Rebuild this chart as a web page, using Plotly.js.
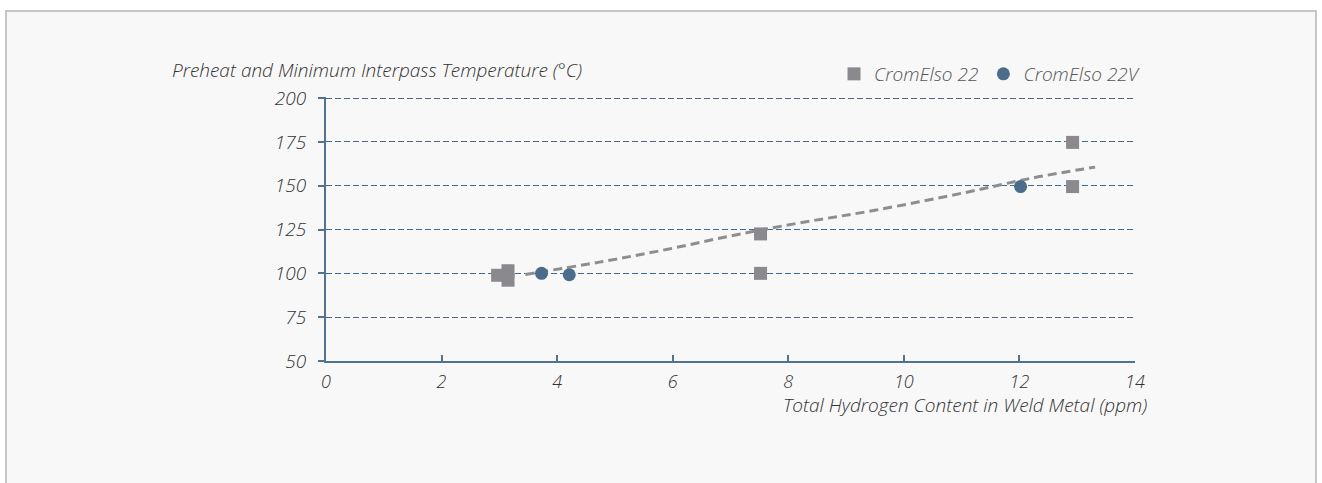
<!DOCTYPE html>
<html>
<head>
<meta charset="utf-8">
<script src="https://cdn.plot.ly/plotly-3.0.1.min.js"></script>
<style>
html,body{margin:0;padding:0;background:#fff;}
#chart{width:1322px;height:483px;}
</style>
</head>
<body>
<div id="chart"></div>
<script>
// Data
const crom22_x = [2.97, 3.15, 3.15, 7.52, 7.52, 12.92, 12.92];
const crom22_y = [98.9, 101.5, 96.1, 122.5, 100, 174.7, 149.5];
const crom22v_x = [3.73, 4.21, 12.02];
const crom22v_y = [100, 99.2, 149.5];
const trend_x = [3.45, 4.73, 5.89, 7.04, 8.2, 9.5, 11.09, 12.24, 13.31];
const trend_y = [99.4, 106.4, 113.6, 121.6, 128.8, 136.0, 146.3, 154.5, 160.6];
const xTicks = [0, 2, 4, 6, 8, 10, 12, 14];
const yTicks = [50, 75, 100, 125, 150, 175, 200];
const seriesNames = ['CromElso 22', 'CromElso 22V'];
const yTitle = 'Preheat and Minimum Interpass Temperature (°C)';
const xTitle = 'Total Hydrogen Content in Weld Metal (ppm)';

const FONT = '"Open Sans", Lato, sans-serif';
const AXIS_COLOR = '#52738f';
const TXT = '#333333';

// layout geometry (pixels)
const W = 1322, H = 483;
const L = 326, R = 1135, T = 97, B = 361;
const pw = R - L, ph = B - T;
const px2x = p => (p - L) / pw;
const py2y = p => (B - p) / ph;
const it = s => '<i>' + s + '</i>';

const traces = [
  {
    x: trend_x, y: trend_y, type: 'scatter', mode: 'lines',
    line: {color: '#8e8e90', width: 3, dash: '9px,5px', shape: 'spline'},
    showlegend: false, hoverinfo: 'skip'
  },
  {
    x: crom22_x, y: crom22_y, type: 'scatter', mode: 'markers', name: it(seriesNames[0]),
    marker: {symbol: 'square', size: 13, color: '#8a8a8e'}
  },
  {
    x: crom22v_x, y: crom22v_y, type: 'scatter', mode: 'markers', name: it(seriesNames[1]),
    marker: {symbol: 'circle', size: 13, color: '#4b6c8b'}
  }
];

const layout = {
  width: W, height: H,
  margin: {l: L, r: W - R, t: T, b: H - B, pad: 0},
  paper_bgcolor: '#ffffff',
  plot_bgcolor: 'rgba(0,0,0,0)',
  font: {family: FONT, color: TXT, weight: 300},
  showlegend: true,
  legend: {
    orientation: 'h', x: px2x(834), xanchor: 'left', y: py2y(74), yanchor: 'middle',
    font: {family: FONT, size: 19, color: '#555', weight: 300},
    bgcolor: 'rgba(0,0,0,0)', itemclick: false, itemdoubleclick: false,
    tracegroupgap: 0, itemwidth: 30
  },
  xaxis: {
    range: [0, 14], tickvals: xTicks, ticktext: xTicks.map(v => it(v)),
    showline: true, linecolor: AXIS_COLOR, linewidth: 2,
    ticks: 'inside', ticklen: 6, tickwidth: 2, tickcolor: AXIS_COLOR,
    showgrid: false, zeroline: false, fixedrange: true,
    tickfont: {family: FONT, size: 18, color: TXT, weight: 300},
    ticklabelstandoff: 3
  },
  yaxis: {
    range: [50, 200.6], tickvals: yTicks, ticktext: yTicks.map(v => it(v)),
    showline: true, linecolor: AXIS_COLOR, linewidth: 2,
    ticks: 'outside', ticklen: 6, tickwidth: 2, tickcolor: AXIS_COLOR,
    showgrid: true, gridcolor: '#3f6a92', gridwidth: 1, griddash: '6px,3px',
    zeroline: false, fixedrange: true,
    tickfont: {family: FONT, size: 19, color: TXT, weight: 300},
    ticklabelstandoff: 8
  },
  shapes: [
    {
      type: 'rect', xref: 'paper', yref: 'paper', layer: 'below',
      x0: px2x(6), x1: px2x(1316), y0: py2y(495), y1: py2y(11),
      line: {color: '#c6c6c6', width: 2}, fillcolor: '#f8f8f8'
    }
  ],
  annotations: [
    {
      text: it(yTitle), xref: 'paper', yref: 'paper',
      x: px2x(170), xanchor: 'left', y: py2y(70), yanchor: 'middle',
      showarrow: false, font: {family: FONT, size: 19, color: TXT, weight: 300}
    },
    {
      text: it(xTitle), xref: 'paper', yref: 'paper',
      x: px2x(1149), xanchor: 'right', y: py2y(405), yanchor: 'middle',
      showarrow: false, font: {family: FONT, size: 19, color: TXT, weight: 300}
    }
  ]
};

Plotly.newPlot('chart', traces, layout, {displayModeBar: false, staticPlot: true});
</script>
</body>
</html>
